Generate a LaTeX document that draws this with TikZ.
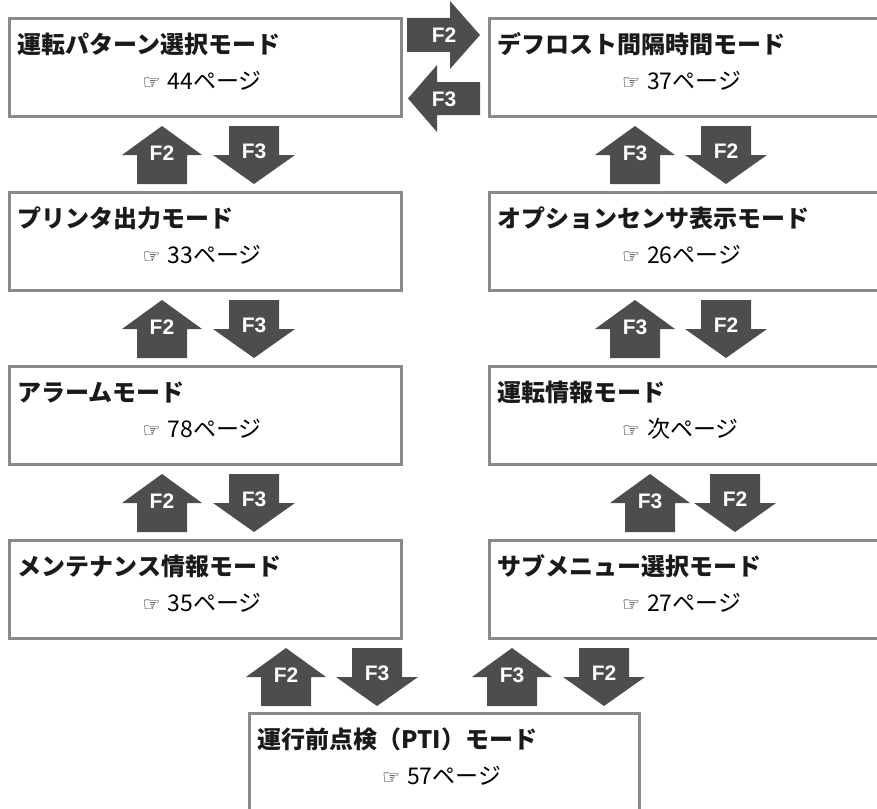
\documentclass[tikz,border=0pt]{standalone}
\usepackage{fontspec}
\setmainfont{Noto Sans CJK JP}
\newfontfamily\symfont{DejaVu Sans}
\newfontfamily\keyfont{Liberation Sans}
\definecolor{boxgray}{HTML}{8A8A8A}
\definecolor{arrowgray}{HTML}{4D4D4D}
\definecolor{titleblack}{HTML}{1A1A1A}
\tikzset{
  modebox/.style={draw=boxgray, line width=3pt, minimum height=98pt, anchor=north west, inner sep=0pt, outer sep=0pt},
  modetitle/.style={anchor=west, font=\fontsize{24}{28}\selectfont\bfseries, text=titleblack, inner sep=0pt},
  pageref/.style={anchor=west, font=\fontsize{23}{28}\selectfont, inner sep=0pt},
  keyarrow/.style={fill=arrowgray, draw=none},
  keylabel/.style={font=\keyfont\bfseries\fontsize{21}{24}\selectfont, text=white, inner sep=0pt}
}
\newcommand\hand{{\symfont\fontsize{20}{20}\selectfont ☞}\hspace{7pt}}
\newcommand\keyup[4]{%
  \fill[keyarrow] (#2,#3) -- ++(40,29) -- ++(-15,0) -- ++(0,29) -- ++(-50,0) -- ++(0,-29) -- ++(-15,0) -- cycle;
  \node[keylabel] (#1) at (#2,#3+27) {#4};}
\newcommand\keydown[4]{%
  \fill[keyarrow] (#2-25,#3) -- ++(50,0) -- ++(0,29) -- ++(16,0) -- (#2,#3+58) -- ++(-41,-29) -- ++(16,0) -- cycle;
  \node[keylabel] (#1) at (#2,#3+25) {#4};}
\begin{document}
\begin{tikzpicture}[x=1pt,y=-1pt]
\useasboundingbox (0,0) rectangle (877,808);
% left column
\node[modebox, minimum width=391.5pt] (b1) at (9.5,18.5) {};
\node[modebox, minimum width=391.5pt] (b2) at (9.5,192.5) {};
\node[modebox, minimum width=391.5pt] (b3) at (9.5,366.5) {};
\node[modebox, minimum width=391.5pt] (b4) at (9.5,540.5) {};
% right column
\node[modebox, minimum width=420pt] (r1) at (489,18.5) {};
\node[modebox, minimum width=420pt] (r2) at (489,192.5) {};
\node[modebox, minimum width=420pt] (r3) at (489,366.5) {};
\node[modebox, minimum width=420pt] (r4) at (489,540.5) {};
% bottom
\node[modebox, minimum width=390pt, minimum height=130pt] (pti) at (249,713.5) {};
% titles
\foreach \b/\t in {b1/運転パターン選択モード, b2/プリンタ出力モード, b3/アラームモード, b4/メンテナンス情報モード, r1/デフロスト間隔時間モード, r2/オプションセンサ表示モード, r3/運転情報モード, r4/サブメニュー選択モード, pti/運行前点検（PTI）モード}
  \node[modetitle] (\b t) at ([xshift=8pt,yshift=-26pt]\b.north west) {\t};
\foreach \b/\p in {b1/44ページ, b2/33ページ, b3/78ページ, b4/35ページ, r1/37ページ, r2/26ページ, r3/次ページ, r4/27ページ, pti/57ページ}
  \node[pageref] (\b p) at ([xshift=133pt,yshift=-62pt]\b.north west) {\hand\p};
% horizontal keys
\fill[keyarrow] (407,18) -- (450,18) -- (450,1) -- (480,35) -- (450,69) -- (450,52) -- (407,52) -- cycle;
\node[keylabel] (h2) at (444,35) {F2};
\fill[keyarrow] (480,82) -- (437,82) -- (437,65) -- (408,98.5) -- (437,132) -- (437,115) -- (480,115) -- cycle;
\node[keylabel] (h3) at (444,99.5) {F3};
% left column keys
\keyup{l1u}{162}{126}{F2} \keydown{l1d}{254}{126}{F3}
\keyup{l2u}{162}{300}{F2} \keydown{l2d}{254}{300}{F3}
\keyup{l3u}{162}{474}{F2} \keydown{l3d}{254}{474}{F3}
% right column keys
\keyup{q1u}{635}{126}{F3} \keydown{q1d}{726}{126}{F2}
\keyup{q2u}{635}{300}{F3} \keydown{q2d}{726}{300}{F2}
\keyup{q3u}{650}{474}{F3} \keydown{q3d}{735}{474}{F2}
% bottom keys
\keyup{p1u}{286}{648}{F2} \keydown{p1d}{377}{648}{F3}
\keyup{p2u}{512}{648}{F3} \keydown{p2d}{604}{648}{F2}
\end{tikzpicture}
\end{document}
